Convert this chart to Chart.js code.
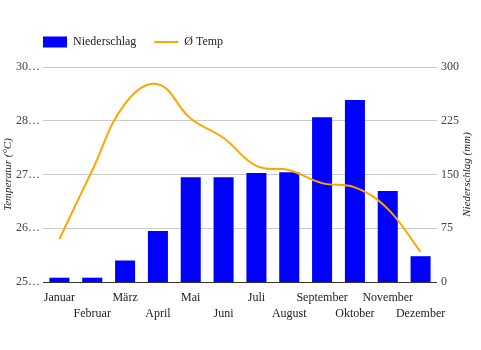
<!DOCTYPE html>
<html>
<head>
<meta charset="utf-8">
<title>Klima</title>
<script src="https://cdn.jsdelivr.net/npm/chart.js"></script>
<style>
  html, body { margin: 0; padding: 0; background: #fff; }
  #wrap { width: 481px; height: 350px; }
</style>
</head>
<body>
<div id="wrap"><canvas id="climate-chart" width="481" height="350"></canvas></div>
<script>
const months = ['Januar', 'Februar', 'März', 'April', 'Mai', 'Juni', 'Juli', 'August', 'September', 'Oktober', 'November', 'Dezember'];
const precipitation = [6, 6, 30, 71, 146, 146, 152, 153, 230, 254, 127, 36];
const temperature = [26.0, 27.6, 29.15, 29.6, 28.8, 28.35, 27.7, 27.6, 27.3, 27.2, 26.7, 25.7];
const tempTickLabels = ['25…', '26…', '27…', '28…', '30…'];

const serif = "'Liberation Serif', 'Times New Roman', serif";
Chart.defaults.font.family = serif;

// legend sits over the plot, not at the canvas edge, and leaves a gap below it
const legendSpot = {
    id: 'legendSpot',
    beforeLayout(chart) {
        const legend = chart.legend;
        if (legend && !legend._spaced) {
            const fit = legend.fit;
            legend.fit = function () { fit.call(this); this.height += 9; };
            legend._spaced = true;
        }
    },
    afterLayout(chart) {
        chart.legend.left = chart.chartArea.left - 18;
    }
};

// right axis title reads bottom-to-top like the left one
const rightTitle = {
    id: 'rightTitle',
    afterDraw(chart) {
        const { ctx, chartArea } = chart;
        ctx.save();
        ctx.translate(chart.scales.y1.right - 14, (chartArea.top + chartArea.bottom) / 2);
        ctx.rotate(-Math.PI / 2);
        ctx.font = 'italic 11px ' + serif;
        ctx.fillStyle = '#222';
        ctx.textAlign = 'center';
        ctx.textBaseline = 'middle';
        ctx.fillText('Niederschlag (mm)', 0, 0);
        ctx.restore();
    }
};

new Chart(document.getElementById('climate-chart'), {
    type: 'bar',
    data: {
        labels: months,
        datasets: [{
            type: 'bar',
            label: 'Niederschlag',
            data: precipitation,
            yAxisID: 'y1',
            backgroundColor: '#0000ff',
            borderWidth: 0,
            barPercentage: 0.61,
            categoryPercentage: 1,
            order: 2
        }, {
            type: 'line',
            label: 'Ø Temp',
            data: temperature,
            yAxisID: 'y',
            borderColor: '#ffa500',
            backgroundColor: '#ffa500',
            borderWidth: 2,
            pointRadius: 0,
            tension: 0.4,
            fill: false,
            order: 1
        }]
    },
    options: {
        responsive: false,
        animation: false,
        layout: { padding: { top: 18 } },
        plugins: {
            tooltip: { enabled: false },
            legend: {
                position: 'top',
                align: 'start',
                labels: {
                    usePointStyle: true,
                    pointStyleWidth: 24,
                    boxHeight: 11,
                    padding: 18,
                    color: '#222',
                    font: { size: 12 },
                    sort: (a, b) => a.datasetIndex - b.datasetIndex,
                    generateLabels: chart => {
                        const items = Chart.defaults.plugins.legend.labels.generateLabels(chart);
                        items.forEach(item => {
                            if (item.datasetIndex === 0) {
                                item.pointStyle = 'rect';
                                item.lineWidth = 0;
                            } else {
                                item.pointStyle = 'line';
                                item.lineWidth = 2;
                            }
                        });
                        return items;
                    }
                }
            }
        },
        scales: {
            x: {
                grid: { display: false },
                border: { display: false },
                ticks: {
                    autoSkip: false,
                    maxRotation: 0,
                    padding: -1,
                    color: '#222',
                    font: { size: 12, lineHeight: 1.4 },
                    callback: (v, i) => i % 2 ? ['', months[i]] : months[i]
                },
                afterFit: s => { s.height = 68; }
            },
            y: {
                position: 'left',
                min: 25,
                max: 30,
                ticks: {
                    stepSize: 1.25,
                    padding: 3,
                    color: '#444',
                    font: { size: 12 },
                    callback: (v, i) => tempTickLabels[i]
                },
                grid: {
                    drawTicks: false,
                    color: ctx => ctx.index === 0 ? '#333' : '#ccc'
                },
                border: { display: false },
                title: {
                    display: true,
                    text: 'Temperatur (°C)',
                    color: '#222',
                    font: { size: 11, style: 'italic' },
                    padding: { top: 2, bottom: 0 }
                },
                afterFit: s => { s.width = 43; }
            },
            y1: {
                position: 'right',
                min: 0,
                max: 300,
                ticks: {
                    stepSize: 75,
                    padding: 4,
                    color: '#444',
                    font: { size: 12 }
                },
                grid: { display: false, drawTicks: false },
                border: { display: false },
                afterFit: s => { s.width = 44; }
            }
        }
    },
    plugins: [legendSpot, rightTitle]
});
</script>
</body>
</html>
